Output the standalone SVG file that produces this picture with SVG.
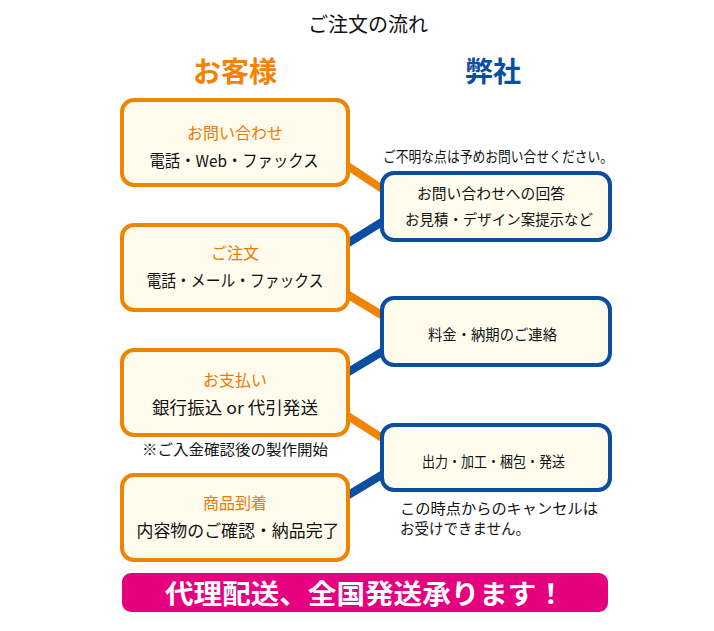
<svg xmlns="http://www.w3.org/2000/svg" width="714" height="631" viewBox="0 0 714 631">
<style>
text{font-family:"Noto Sans CJK JP","Noto Sans",sans-serif;dominant-baseline:central}
.ob{fill:#fffcee;stroke:#f08300;stroke-width:4}
.bb{fill:#fffcee;stroke:#0a4ea2;stroke-width:4}
.ol{stroke:#f08300;stroke-width:8;fill:none}
.bl{stroke:#0a4ea2;stroke-width:8;fill:none}
.lab{fill:#f07a00;font-size:16px;text-anchor:middle}
.t{fill:#111;font-size:16.5px;text-anchor:middle}
.s{fill:#111;font-size:14.5px}
</style>
<rect width="714" height="631" fill="#fff"/>
<g id="title">
<text x="368" y="23" style="font-size:20px;fill:#111;text-anchor:middle">ご注文の流れ</text>
<text x="235" y="70" style="font-size:28px;font-weight:bold;fill:#f08300;text-anchor:middle">お客様</text>
<text x="493" y="70" style="font-size:28px;font-weight:bold;fill:#0a4ea2;text-anchor:middle">弊社</text>
</g>
<g id="connectors">
<line class="ol" x1="340" y1="161" x2="390" y2="194"/>
<line class="bl" x1="390" y1="217" x2="340" y2="248"/>
<line class="ol" x1="340" y1="290" x2="390" y2="320"/>
<line class="bl" x1="390" y1="347" x2="340" y2="377"/>
<line class="ol" x1="340" y1="411" x2="390" y2="443"/>
<line class="bl" x1="390" y1="470" x2="340" y2="500"/>
</g>
<g id="c1">
<rect class="ob" x="122" y="100" width="226" height="85" rx="12"/>
<text class="lab" x="235" y="132">お問い合わせ</text>
<text class="t" x="234" y="160" textLength="169" lengthAdjust="spacingAndGlyphs">電話・Web・ファックス</text>
</g>
<g id="c2">
<rect class="ob" x="122" y="225" width="226" height="85" rx="12"/>
<text class="lab" x="235" y="252">ご注文</text>
<text class="t" x="235" y="280" textLength="177" lengthAdjust="spacingAndGlyphs">電話・メール・ファックス</text>
</g>
<g id="c3">
<rect class="ob" x="122" y="350" width="226" height="85" rx="12"/>
<text class="lab" x="235" y="379">お支払い</text>
<text class="t" x="235" y="407" textLength="166" lengthAdjust="spacingAndGlyphs">銀行振込 or 代引発送</text>
</g>
<text class="s" x="142" y="448" textLength="186" lengthAdjust="spacingAndGlyphs">※ご入金確認後の製作開始</text>
<g id="c4">
<rect class="ob" x="122" y="475" width="226" height="85" rx="12"/>
<text class="lab" x="235" y="502">商品到着</text>
<text class="t" x="238" y="530" textLength="203" lengthAdjust="spacingAndGlyphs">内容物のご確認・納品完了</text>
</g>
<text class="s" x="383" y="155" textLength="230" lengthAdjust="spacingAndGlyphs">ご不明な点は予めお問い合せください。</text>
<g id="s1">
<rect class="bb" x="382" y="173" width="228" height="67" rx="12"/>
<text class="s" x="417" y="192" textLength="148" lengthAdjust="spacingAndGlyphs">お問い合わせへの回答</text>
<text class="s" x="405" y="218" textLength="188" lengthAdjust="spacingAndGlyphs">お見積・デザイン案提示など</text>
</g>
<g id="s2">
<rect class="bb" x="382" y="298" width="228" height="67" rx="12"/>
<text class="s" x="428" y="333" textLength="129" lengthAdjust="spacingAndGlyphs">料金・納期のご連絡</text>
</g>
<g id="s3">
<rect class="bb" x="382" y="425" width="228" height="65" rx="12"/>
<text class="s" x="422" y="460" textLength="143" lengthAdjust="spacingAndGlyphs">出力・加工・梱包・発送</text>
</g>
<text class="s" x="400" y="507" textLength="198" lengthAdjust="spacingAndGlyphs">この時点からのキャンセルは</text>
<text class="s" x="400" y="527">お受けできません。</text>
<g id="banner">
<rect x="122" y="573" width="486" height="39" rx="9" fill="#e4007f"/>
<text x="365" y="592" style="font-size:27px;font-weight:bold;fill:#fff;text-anchor:middle" textLength="400" lengthAdjust="spacingAndGlyphs">代理配送、全国発送承ります！</text>
</g>
</svg>
